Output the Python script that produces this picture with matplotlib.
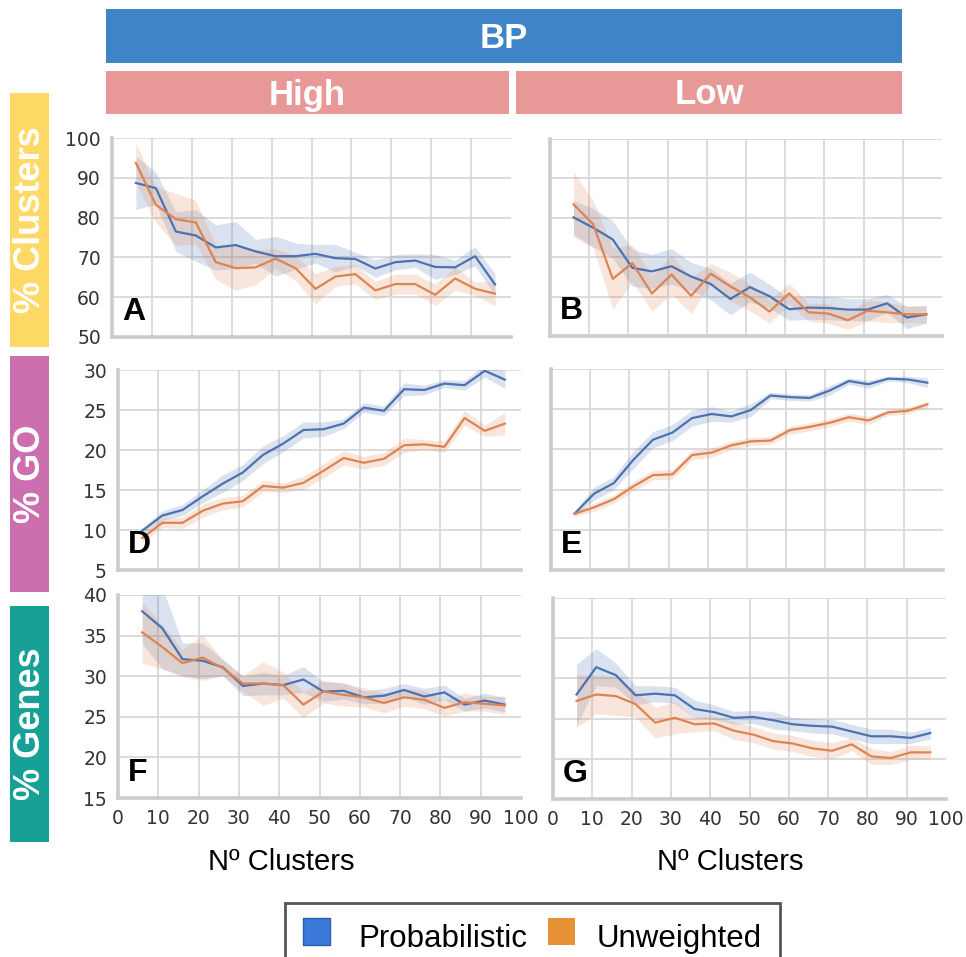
import matplotlib.pyplot as plt
from matplotlib.patches import Rectangle

# cluster counts on the x axis
n_clusters = [6, 11, 16, 21, 26, 31, 36, 41, 46, 51, 56, 61, 66, 71, 76, 81, 86, 91, 96]

# % Clusters, High
clu_high_prob = [88.7, 87.4, 76.5, 75.5, 72.5, 73.1, 71.5, 70.3, 70.3, 70.9, 69.8, 69.6, 67.2, 68.8, 69.2, 67.6, 67.5, 70.3, 63.2]
clu_high_prob_ci = [6.7, 4.0, 5.0, 6.5, 5.7, 5.9, 3.0, 5.0, 3.3, 2.3, 3.5, 1.7, 2.2, 1.9, 1.7, 3.1, 1.8, 2.4, 2.7]
clu_high_unw = [93.7, 83.2, 79.6, 78.8, 68.8, 67.3, 67.5, 69.7, 67.3, 62.1, 65.2, 65.8, 61.7, 63.3, 63.3, 60.6, 64.7, 62.1, 60.9]
clu_high_unw_ci = [5.0, 4.5, 6.5, 5.5, 4.3, 5.6, 4.4, 2.5, 3.1, 3.8, 2.5, 2.4, 2.3, 2.5, 2.5, 2.7, 2.9, 1.7, 3.1]

# % Clusters, Low
clu_low_prob = [80.1, 77.5, 74.5, 67.3, 66.4, 67.7, 65.1, 63.2, 59.4, 62.4, 60.1, 56.8, 57.2, 57.1, 56.7, 56.7, 58.3, 54.7, 55.5]
clu_low_prob_ci = [4.3, 4.9, 4.7, 4.7, 4.3, 4.5, 3.6, 4.0, 4.0, 3.8, 3.0, 2.8, 3.0, 3.0, 2.8, 2.8, 2.3, 2.8, 2.3]
clu_low_unw = [83.4, 78.4, 64.5, 68.5, 60.8, 65.6, 60.2, 65.8, 62.6, 59.8, 56.2, 60.8, 56.0, 55.7, 54.0, 56.4, 56.0, 55.5, 55.5]
clu_low_unw_ci = [8.3, 6.0, 7.7, 4.7, 4.5, 4.9, 4.5, 2.6, 3.6, 3.4, 3.0, 2.6, 2.3, 2.5, 2.3, 2.6, 2.6, 2.1, 2.1]

# % GO, High
go_high_prob = [9.9, 11.8, 12.5, 14.2, 15.8, 17.2, 19.4, 20.8, 22.5, 22.6, 23.3, 25.3, 24.9, 27.6, 27.5, 28.3, 28.1, 29.9, 28.8]
go_high_prob_ci = [0.4, 0.6, 0.7, 0.8, 1.1, 1.0, 1.1, 1.0, 1.0, 0.9, 0.6, 0.6, 0.6, 0.8, 0.6, 0.5, 0.6, 0.8, 1.1]
go_high_unw = [9.0, 10.9, 10.9, 12.4, 13.3, 13.6, 15.5, 15.3, 15.9, 17.4, 19.0, 18.4, 18.9, 20.6, 20.7, 20.4, 24.0, 22.4, 23.3]
go_high_unw_ci = [0.5, 0.6, 0.7, 0.8, 0.8, 0.7, 0.7, 0.6, 0.8, 0.9, 0.9, 0.8, 0.8, 0.9, 0.6, 0.7, 0.9, 0.7, 1.4]

# % GO, Low
go_low_prob = [12.0, 14.5, 15.8, 18.7, 21.2, 22.1, 23.9, 24.4, 24.1, 24.9, 26.7, 26.5, 26.4, 27.3, 28.5, 28.1, 28.8, 28.7, 28.3]
go_low_prob_ci = [0.3, 0.8, 0.8, 1.1, 1.0, 1.0, 1.0, 0.9, 0.7, 0.8, 0.4, 0.4, 0.4, 0.6, 0.4, 0.5, 0.3, 0.4, 0.6]
go_low_unw = [12.0, 12.8, 13.8, 15.4, 16.8, 16.9, 19.3, 19.6, 20.5, 21.0, 21.1, 22.4, 22.8, 23.3, 24.0, 23.6, 24.6, 24.8, 25.6]
go_low_unw_ci = [0.3, 0.5, 0.5, 0.6, 0.6, 0.6, 0.6, 0.6, 0.5, 0.5, 0.5, 0.5, 0.5, 0.5, 0.5, 0.5, 0.4, 0.4, 0.4]

# % Genes, High
gen_high_prob = [38.0, 35.9, 32.1, 31.9, 31.1, 28.8, 29.1, 28.9, 29.6, 28.1, 28.2, 27.4, 27.6, 28.3, 27.5, 28.0, 26.5, 27.0, 26.5]
gen_high_prob_ci = [4.0, 5.0, 2.0, 2.2, 1.0, 1.2, 1.4, 1.2, 1.6, 1.2, 1.0, 0.8, 0.9, 0.8, 1.0, 0.9, 0.8, 0.9, 0.9]
gen_high_unw = [35.4, 33.6, 31.6, 32.3, 31.0, 29.1, 29.1, 28.9, 26.5, 28.1, 27.7, 27.4, 26.7, 27.4, 27.1, 26.1, 26.8, 26.6, 26.4]
gen_high_unw_ci = [3.8, 2.7, 1.7, 2.8, 1.0, 1.0, 2.7, 1.6, 1.6, 1.4, 1.4, 1.2, 1.2, 1.1, 1.1, 1.0, 1.1, 0.9, 1.1]

# % Genes, Low
gen_low_prob = [28.0, 31.4, 30.4, 27.9, 28.1, 27.9, 26.2, 25.8, 25.1, 25.2, 24.8, 24.3, 24.1, 24.0, 23.4, 22.8, 22.8, 22.6, 23.2]
gen_low_prob_ci = [3.8, 2.3, 1.5, 1.2, 1.0, 1.0, 1.1, 0.9, 0.8, 0.8, 1.1, 0.8, 0.9, 0.9, 0.9, 0.9, 0.9, 0.7, 0.7]
gen_low_unw = [27.2, 28.0, 27.8, 26.8, 24.5, 25.1, 24.3, 24.4, 23.5, 23.0, 22.2, 21.9, 21.3, 21.0, 21.8, 20.3, 20.1, 20.8, 20.8]
gen_low_unw_ci = [3.3, 2.4, 2.4, 1.6, 1.9, 2.0, 0.9, 0.9, 1.1, 1.0, 1.0, 1.0, 1.0, 1.0, 0.8, 1.0, 0.8, 0.9, 0.8]

W, H = 966, 957
fig = plt.figure(figsize=(W / 100, H / 100), dpi=100)

BLUE = '#4c72b0'
ORANGE = '#dd8452'


def px_axes(l, t, r, b):
    return fig.add_axes([l / W, 1 - b / H, (r - l) / W, (b - t) / H])


def px_rect(l, t, r, b, color, **kw):
    fig.add_artist(Rectangle((l / W, 1 - b / H), (r - l) / W, (b - t) / H,
                             transform=fig.transFigure, facecolor=color,
                             edgecolor=kw.pop('edgecolor', 'none'), **kw))


def draw_panel(ax, prob, prob_ci, unw, unw_ci, ylim, yticks, letter,
               show_y, show_x):
    for mean, ci, col in [(prob, prob_ci, BLUE), (unw, unw_ci, ORANGE)]:
        lo = [m - c for m, c in zip(mean, ci)]
        hi = [m + c for m, c in zip(mean, ci)]
        ax.fill_between(n_clusters, lo, hi, color=col, alpha=0.2, lw=0)
        ax.plot(n_clusters, mean, color=col, lw=1.6)
    ax.set_xlim(0, 100)
    ax.set_ylim(*ylim)
    ax.set_xticks(range(0, 101, 10))
    ax.set_yticks(yticks)
    ax.grid(True, color='#d6d6d6', lw=1.2)
    ax.set_axisbelow(True)
    ax.xaxis.get_gridlines()[-1].set_visible(False)
    for s in ['top', 'right']:
        ax.spines[s].set_visible(False)
    for s in ['left', 'bottom']:
        ax.spines[s].set_color('#cccccc')
        ax.spines[s].set_linewidth(2.6)
    ax.tick_params(length=0, labelsize=13.5, labelcolor='#333333', pad=8)
    if not show_y:
        ax.set_yticklabels([])
    if not show_x:
        ax.set_xticklabels([])
    ax.text(0.025, 0.05, letter, transform=ax.transAxes, fontsize=23,
            fontweight='bold', family='Liberation Sans', ha='left', va='bottom')


yt_clu = [50, 60, 70, 80, 90, 100]
yt_go = [5, 10, 15, 20, 25, 30]
yt_gen = [15, 20, 25, 30, 35, 40]

draw_panel(px_axes(112, 138, 511, 337), clu_high_prob, clu_high_prob_ci,
           clu_high_unw, clu_high_unw_ci, (50, 100), yt_clu, 'A', True, False)
draw_panel(px_axes(550, 139, 942, 336), clu_low_prob, clu_low_prob_ci,
           clu_low_unw, clu_low_unw_ci, (50, 100), yt_clu, 'B', False, False)
draw_panel(px_axes(118, 370, 521, 570), go_high_prob, go_high_prob_ci,
           go_high_unw, go_high_unw_ci, (5, 30), yt_go, 'D', True, False)
draw_panel(px_axes(551, 369, 943, 570), go_low_prob, go_low_prob_ci,
           go_low_unw, go_low_unw_ci, (5, 30), yt_go, 'E', False, False)
draw_panel(px_axes(118, 595, 521, 798), gen_high_prob, gen_high_prob_ci,
           gen_high_unw, gen_high_unw_ci, (15, 40), yt_gen, 'F', True, True)
draw_panel(px_axes(553, 598, 946, 799), gen_low_prob, gen_low_prob_ci,
           gen_low_unw, gen_low_unw_ci, (15, 40), yt_gen, 'G', False, True)

# header bars
hdr = dict(color='white', fontweight='bold', family='Liberation Sans',
           fontsize=25, ha='center', va='center')
px_rect(106, 9, 902, 63, '#3f84c6')
fig.text((106 + 902) / 2 / W, 1 - 38 / H, 'BP', **hdr)
px_rect(106, 71, 509, 114, '#e99898')
fig.text((106 + 509) / 2 / W, 1 - 95 / H, 'High', **hdr)
px_rect(516, 71, 902, 114, '#e99898')
fig.text((516 + 902) / 2 / W, 1 - 95 / H, 'Low', **hdr)

# row labels
row_labels = [('% Clusters', 93, 347, '#ffd966'),
              ('% GO', 356, 592, '#cc6fae'),
              ('% Genes', 606, 842, '#17a096')]
for txt, t, b, col in row_labels:
    px_rect(10, t, 49, b, col)
    fig.text(31 / W, 1 - (t + b) / 2 / H, txt, rotation=90, color='white',
             fontweight='bold', family='Liberation Sans', fontsize=26,
             ha='center', va='center')

# x axis titles
for cx in [281, 730]:
    fig.text(cx / W, 1 - 870 / H, 'Nº Clusters', family='Liberation Sans',
             fontsize=21, ha='center', va='baseline')

# legend box
px_rect(285, 903, 780, 970, 'white', edgecolor='#555555', linewidth=2)
px_rect(303, 918, 330, 945, '#3c78d8', edgecolor='#2b5fb5', linewidth=1)
px_rect(548, 918, 575, 945, '#e69138')
fig.text(358 / W, 1 - 947 / H, 'Probabilistic', family='Liberation Sans',
         fontsize=22.5, va='baseline')
fig.text(597 / W, 1 - 947 / H, 'Unweighted', family='Liberation Sans',
         fontsize=22.5, va='baseline')

fig.savefig('out.png', dpi=100)
